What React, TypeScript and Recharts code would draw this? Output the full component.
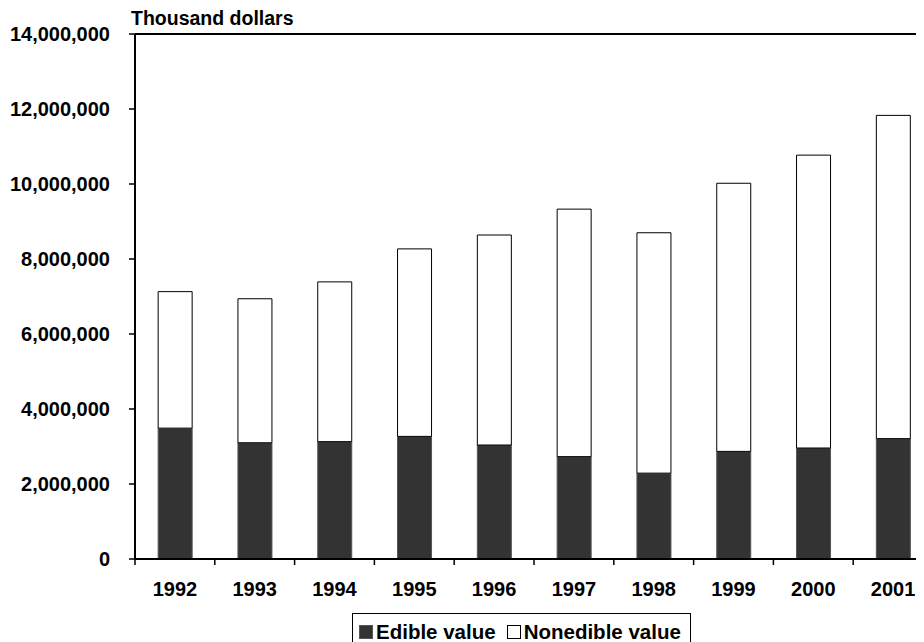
import React from "react";
import { BarChart, Bar, XAxis, YAxis, ReferenceLine, Legend } from "recharts";

const years = ["1992", "1993", "1994", "1995", "1996", "1997", "1998", "1999", "2000", "2001"];
const edibleValue = [3490000, 3100000, 3130000, 3270000, 3040000, 2730000, 2290000, 2870000, 2960000, 3210000];
const nonedibleValue = [3640000, 3840000, 4260000, 5000000, 5600000, 6600000, 6410000, 7150000, 7810000, 8620000];
const yTicks = [0, 2000000, 4000000, 6000000, 8000000, 10000000, 12000000, 14000000];
const seriesNames = ["Edible value", "Nonedible value"];
const titleText = "Thousand dollars";

const data = years.map((y, i) => ({ year: y, edible: edibleValue[i], nonedible: nonedibleValue[i] }));

const FONT = '"Liberation Sans", Arial, sans-serif';
const EDIBLE = "#333333";

const fmt = (v: number) => v.toLocaleString("en-US");

const XTick = (props: any) => {
  const { x, y, payload, index, visibleTicksCount } = props;
  const off = payload && typeof payload.offset === "number" && payload.offset > 0 ? payload.offset : 40;
  return (
    <g>
      <line x1={x - off} x2={x - off} y1={y} y2={y + 6} stroke="#000" strokeWidth={1.5} />
      {index === visibleTicksCount - 1 && (
        <line x1={x + off} x2={x + off} y1={y} y2={y + 6} stroke="#000" strokeWidth={1.5} />
      )}
      <text x={x} y={y + 37} textAnchor="middle" fill="#000" fontSize={20} fontWeight="bold" fontFamily={FONT}>
        {payload.value}
      </text>
    </g>
  );
};

const TitleLabel = (props: any) => {
  const vb = props.viewBox || { x: 0, y: 0 };
  return (
    <text x={vb.x - 4} y={vb.y - 9} fill="#000" fontSize={19.5} fontWeight="bold" fontFamily={FONT}>
      {titleText}
    </text>
  );
};

const LegendBox = () => (
  <div
    style={{
      display: "flex",
      alignItems: "center",
      border: "1.5px solid #000",
      padding: "6px 9px 6px 6px",
      fontFamily: FONT,
      fontWeight: "bold",
      fontSize: 20.5,
      background: "#fff",
      whiteSpace: "nowrap",
    }}
  >
    <span style={{ display: "inline-block", width: 12, height: 12, background: EDIBLE, border: "1px solid #555", marginRight: 3 }} />
    <span style={{ marginRight: 11 }}>{seriesNames[0]}</span>
    <span style={{ display: "inline-block", width: 12, height: 12, background: "#fff", border: "1px solid #000", marginRight: 3 }} />
    <span>{seriesNames[1]}</span>
  </div>
);

export default function App() {
  return (
    <div style={{ width: 916, height: 634, overflow: "hidden", position: "relative" }}>
      <BarChart
        width={930}
        height={640}
        data={data}
        margin={{ top: 26, right: 5, left: 0, bottom: 11 }}
        barCategoryGap="29%"
      >
        <XAxis
          dataKey="year"
          axisLine={{ stroke: "#000", strokeWidth: 2 }}
          tickLine={false}
          tickSize={0}
          tickMargin={0}
          height={40}
          tick={<XTick />}
          interval={0}
        />
        <YAxis
          width={127}
          domain={[0, 14000000]}
          ticks={yTicks}
          interval={0}
          tickFormatter={fmt}
          axisLine={{ stroke: "#000", strokeWidth: 2 }}
          tickLine={{ stroke: "#000", strokeWidth: 1.5 }}
          tickSize={6}
          tickMargin={19}
          tick={{ fill: "#000", fontSize: 20, fontWeight: "bold", fontFamily: FONT }}
        />
        <ReferenceLine y={14000000} stroke="#000" strokeWidth={2} label={<TitleLabel />} />
        <Legend
          content={<LegendBox />}
          verticalAlign="bottom"
          wrapperStyle={{ position: "absolute", left: 344, top: 605, width: "auto" }}
        />
        <Bar dataKey="edible" stackId="a" fill={EDIBLE} stroke="#555" strokeWidth={1} isAnimationActive={false} />
        <Bar dataKey="nonedible" stackId="a" fill="#fff" stroke="#000" strokeWidth={1} isAnimationActive={false} />
      </BarChart>
    </div>
  );
}
